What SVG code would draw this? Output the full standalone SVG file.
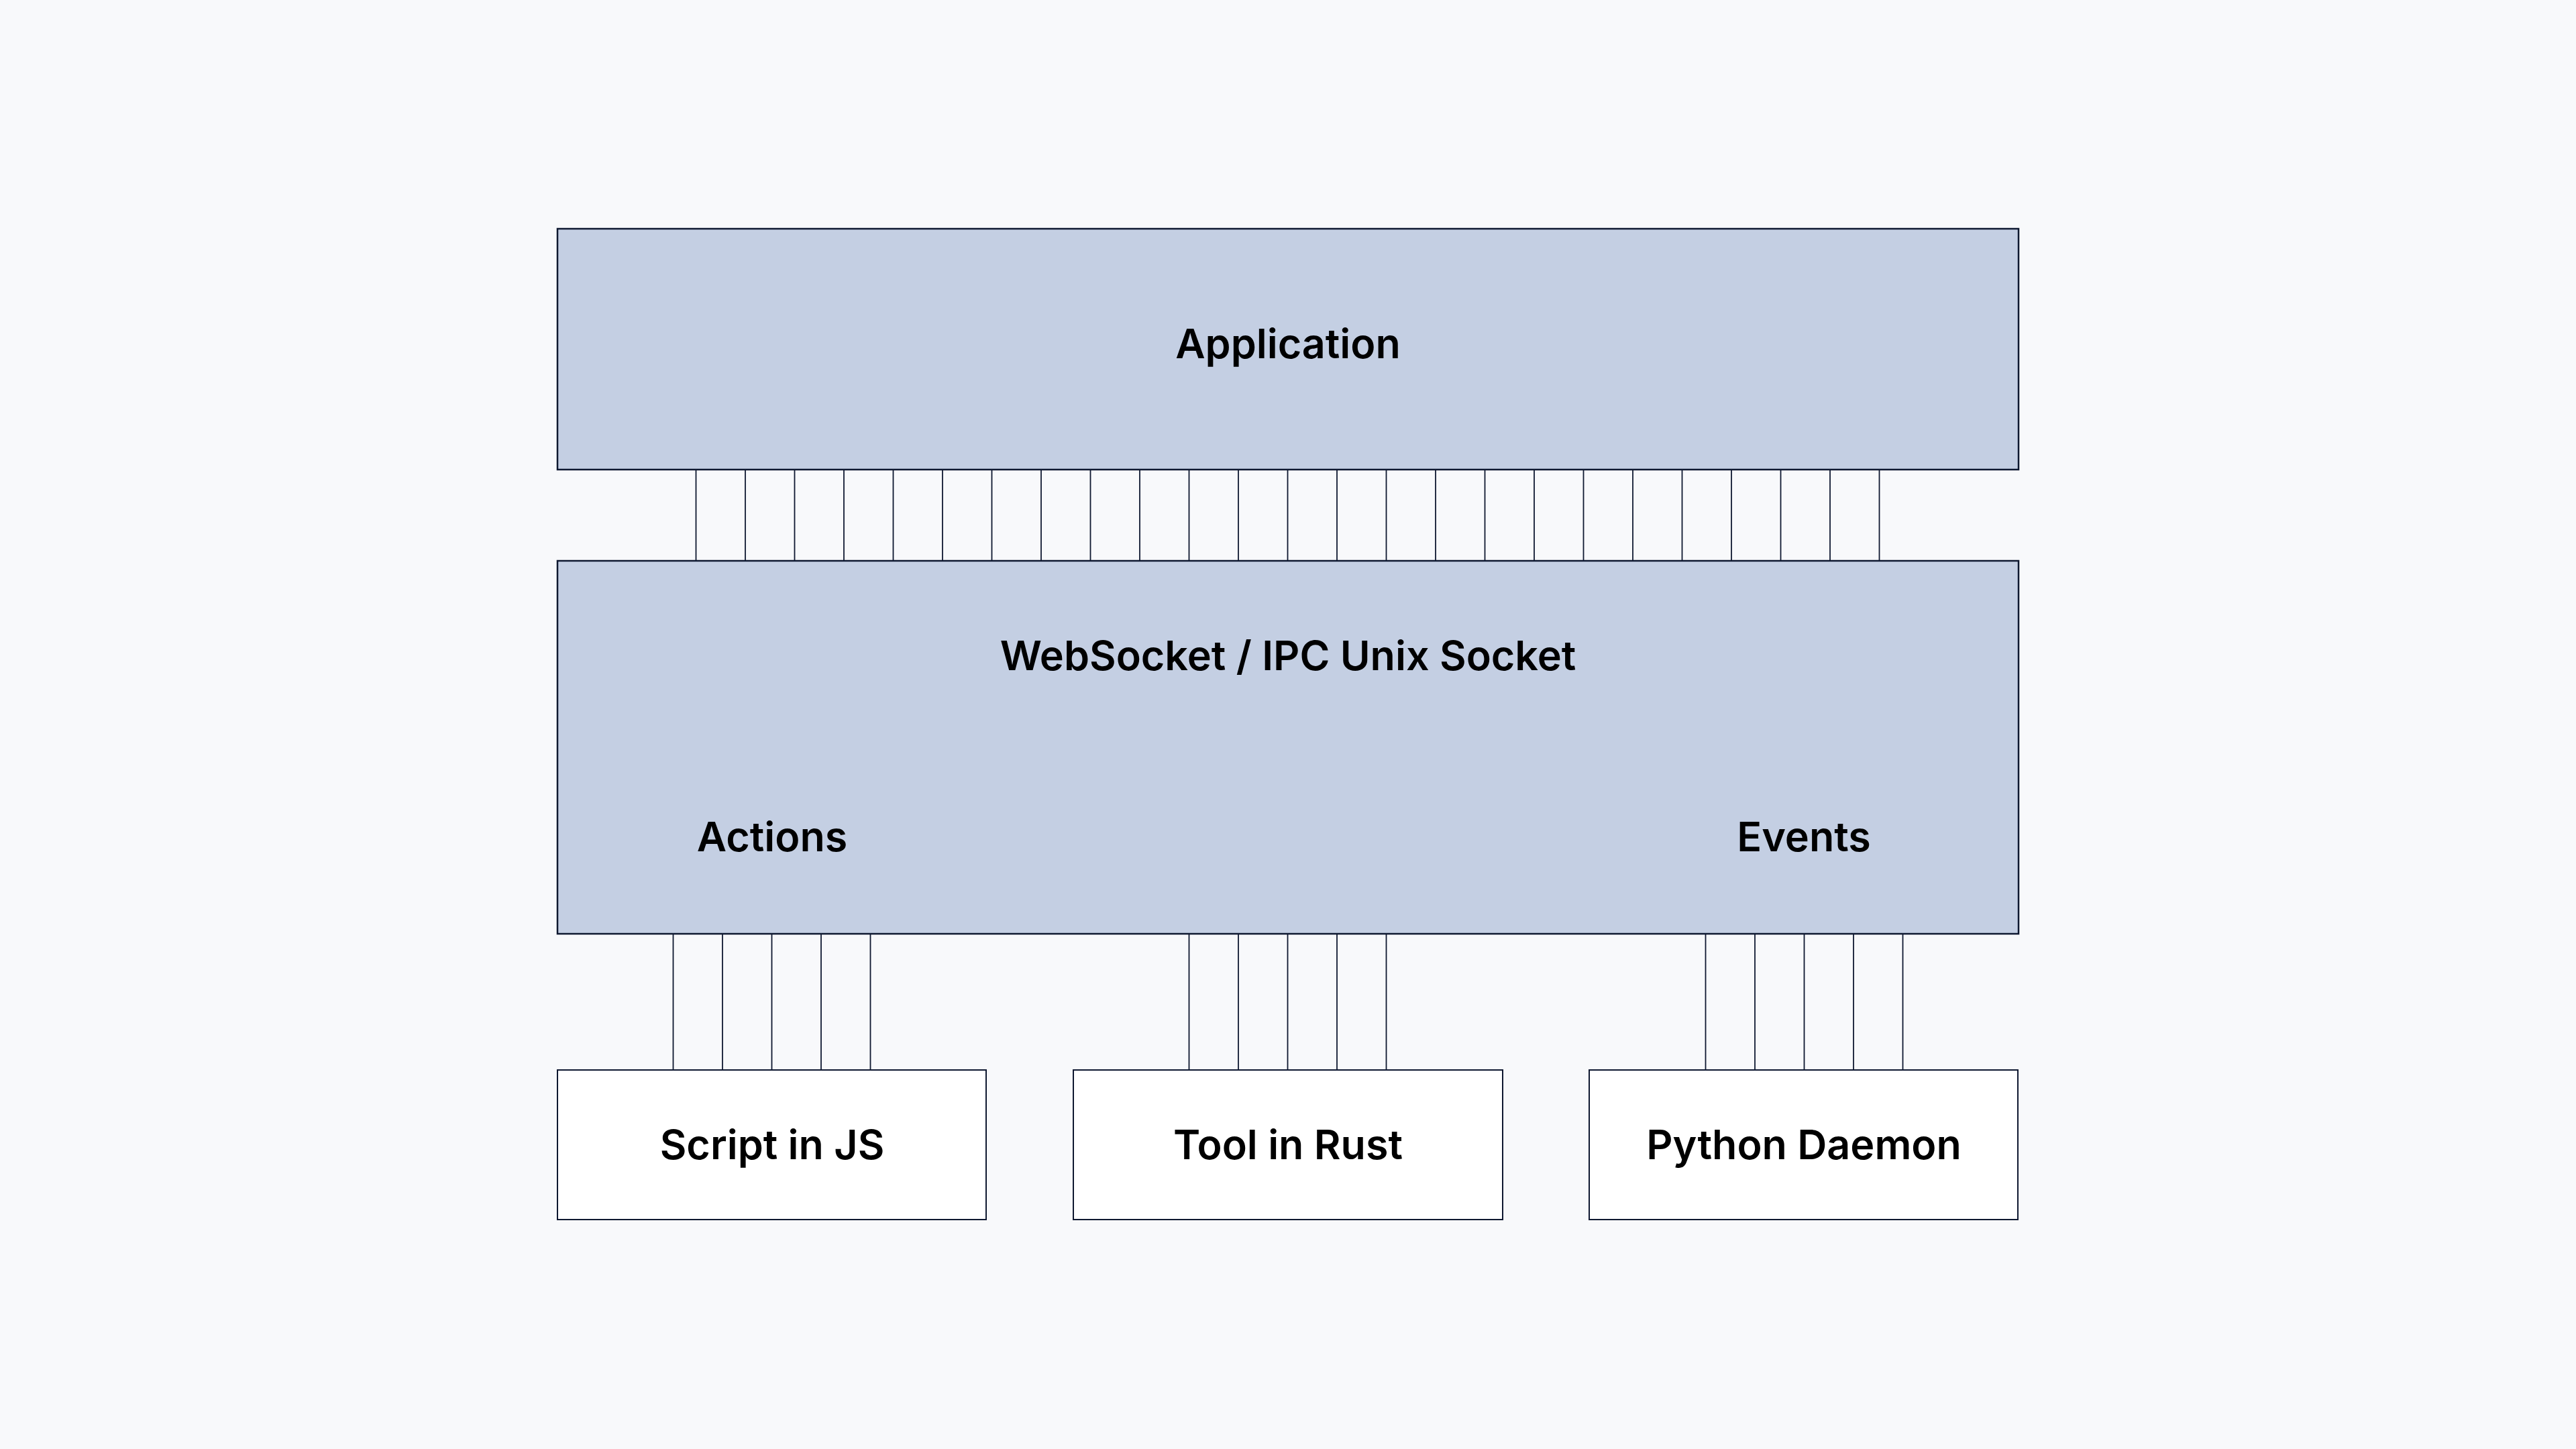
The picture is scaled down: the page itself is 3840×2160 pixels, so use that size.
<svg xmlns="http://www.w3.org/2000/svg" width="3840" height="2160" viewBox="0 0 3840 2160">
  <style>
    .bg { fill: #f8f9fb; }
    .layer { fill: #c4cfe3; stroke: #0e1830; stroke-width: 2.5; }
    .client { fill: #ffffff; stroke: #0e1830; stroke-width: 2; }
    .wire { stroke: #0e1830; stroke-width: 1.8; fill: none; }
    .label { font-family: Inter, "Liberation Sans", sans-serif; font-weight: 600; font-size: 61px; fill: #000000; text-anchor: middle; }
  </style>
  <rect class="bg" x="0" y="0" width="3840" height="2160"/>
  <g id="connectors">
    <g id="app-ws-wires">
      <line class="wire" x1="1037.5" y1="700" x2="1037.5" y2="836"/>
      <line class="wire" x1="1111" y1="700" x2="1111" y2="836"/>
      <line class="wire" x1="1184.5" y1="700" x2="1184.5" y2="836"/>
      <line class="wire" x1="1258" y1="700" x2="1258" y2="836"/>
      <line class="wire" x1="1331.5" y1="700" x2="1331.5" y2="836"/>
      <line class="wire" x1="1405" y1="700" x2="1405" y2="836"/>
      <line class="wire" x1="1478.5" y1="700" x2="1478.5" y2="836"/>
      <line class="wire" x1="1552" y1="700" x2="1552" y2="836"/>
      <line class="wire" x1="1625.5" y1="700" x2="1625.5" y2="836"/>
      <line class="wire" x1="1699" y1="700" x2="1699" y2="836"/>
      <line class="wire" x1="1772.5" y1="700" x2="1772.5" y2="836"/>
      <line class="wire" x1="1846" y1="700" x2="1846" y2="836"/>
      <line class="wire" x1="1919.5" y1="700" x2="1919.5" y2="836"/>
      <line class="wire" x1="1993" y1="700" x2="1993" y2="836"/>
      <line class="wire" x1="2066.5" y1="700" x2="2066.5" y2="836"/>
      <line class="wire" x1="2140" y1="700" x2="2140" y2="836"/>
      <line class="wire" x1="2213.5" y1="700" x2="2213.5" y2="836"/>
      <line class="wire" x1="2287" y1="700" x2="2287" y2="836"/>
      <line class="wire" x1="2360.5" y1="700" x2="2360.5" y2="836"/>
      <line class="wire" x1="2434" y1="700" x2="2434" y2="836"/>
      <line class="wire" x1="2507.5" y1="700" x2="2507.5" y2="836"/>
      <line class="wire" x1="2581" y1="700" x2="2581" y2="836"/>
      <line class="wire" x1="2654.5" y1="700" x2="2654.5" y2="836"/>
      <line class="wire" x1="2728" y1="700" x2="2728" y2="836"/>
      <line class="wire" x1="2801.5" y1="700" x2="2801.5" y2="836"/>
    </g>
    <g id="ws-js-wires">
      <line class="wire" x1="1003.5" y1="1392" x2="1003.5" y2="1595"/>
      <line class="wire" x1="1077" y1="1392" x2="1077" y2="1595"/>
      <line class="wire" x1="1150.5" y1="1392" x2="1150.5" y2="1595"/>
      <line class="wire" x1="1224" y1="1392" x2="1224" y2="1595"/>
      <line class="wire" x1="1297.5" y1="1392" x2="1297.5" y2="1595"/>
    </g>
    <g id="ws-rust-wires">
      <line class="wire" x1="1772.5" y1="1392" x2="1772.5" y2="1595"/>
      <line class="wire" x1="1846" y1="1392" x2="1846" y2="1595"/>
      <line class="wire" x1="1919.5" y1="1392" x2="1919.5" y2="1595"/>
      <line class="wire" x1="1993" y1="1392" x2="1993" y2="1595"/>
      <line class="wire" x1="2066.5" y1="1392" x2="2066.5" y2="1595"/>
    </g>
    <g id="ws-python-wires">
      <line class="wire" x1="2542.5" y1="1392" x2="2542.5" y2="1595"/>
      <line class="wire" x1="2616" y1="1392" x2="2616" y2="1595"/>
      <line class="wire" x1="2689.5" y1="1392" x2="2689.5" y2="1595"/>
      <line class="wire" x1="2763" y1="1392" x2="2763" y2="1595"/>
      <line class="wire" x1="2836.5" y1="1392" x2="2836.5" y2="1595"/>
    </g>
  </g>
  <g id="application">
    <rect class="layer" x="831" y="341" width="2178" height="359"/>
    <text class="label" x="1920" y="534">Application</text>
  </g>
  <g id="socket">
    <rect class="layer" x="831" y="836" width="2178" height="556"/>
    <text class="label" x="1920" y="999">WebSocket / IPC Unix Socket</text>
    <text class="label" x="1151" y="1269">Actions</text>
    <text class="label" x="2689" y="1269">Events</text>
  </g>
  <g id="script-js">
    <rect class="client" x="831" y="1595" width="639" height="223"/>
    <text class="label" x="1151" y="1728">Script in JS</text>
  </g>
  <g id="tool-rust">
    <rect class="client" x="1600" y="1595" width="640" height="223"/>
    <text class="label" x="1920" y="1728">Tool in Rust</text>
  </g>
  <g id="python-daemon">
    <rect class="client" x="2369" y="1595" width="639" height="223"/>
    <text class="label" x="2689" y="1728">Python Daemon</text>
  </g>
</svg>
